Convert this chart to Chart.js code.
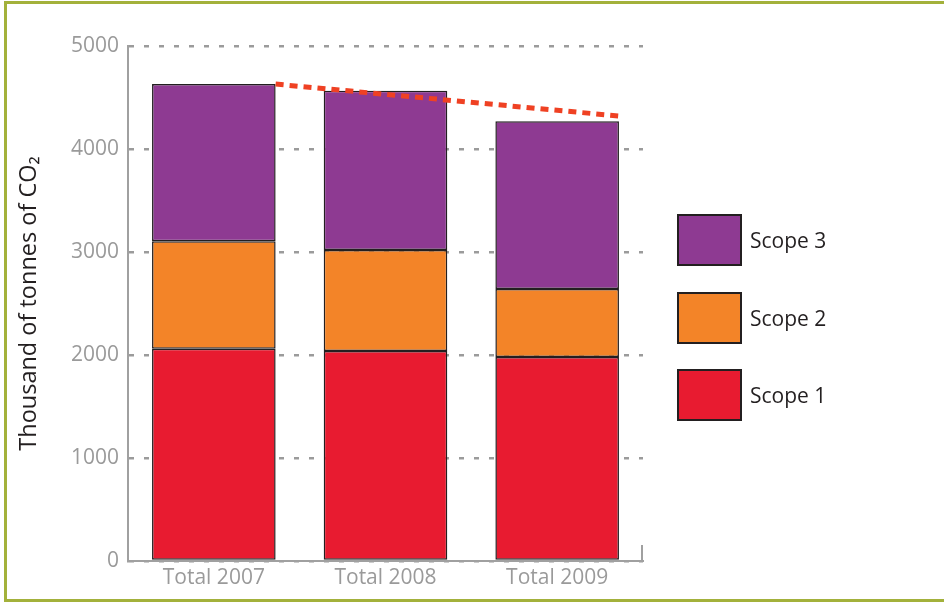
<!DOCTYPE html>
<html><head><meta charset="utf-8">
<script src="https://cdn.jsdelivr.net/npm/chart.js@4.4.1/dist/chart.umd.min.js"></script>
<style>
html,body{margin:0;padding:0;background:#fff;}
#wrap{position:relative;width:944px;height:602px;overflow:hidden;font-family:"Open Sans",sans-serif;}
#frame{position:absolute;left:4px;top:1px;width:980px;height:601px;box-sizing:border-box;border-top:3px solid #a3b13b;border-left:3px solid #a3b13b;border-bottom:3px solid #a3b13b;pointer-events:none;}
#chartBox{position:absolute;left:0;top:0;width:944px;height:602px;}
#legend{position:absolute;left:677px;top:214px;}
.item{position:absolute;left:0;width:220px;height:52px;}
.box{position:absolute;left:0;top:0;width:65px;height:52px;box-sizing:border-box;border:2px solid #231f20;}
.lbl{position:absolute;left:73px;top:0;line-height:52px;font-size:21px;color:#231f20;white-space:nowrap;}
</style></head>
<body>
<div id="wrap">
<div id="chartBox"><canvas id="c"></canvas></div>
<div id="legend"></div>
<div id="frame"></div>
</div>
<script>
const categories = ['Total 2007', 'Total 2008', 'Total 2009'];
const seriesNames = ['Scope 1', 'Scope 2', 'Scope 3'];
const scope1 = [2060, 2040, 1980];
const scope2 = [1045, 980, 660];
const scope3 = [1525, 1545, 1630];
const trendValues = [4630, 4320];
const trendPositions = [0.36, 2.36];
const yTickValues = [0, 1000, 2000, 3000, 4000, 5000];
const seriesColors = ['#e81b30', '#f38428', '#8e3a92'];
const yTitle = 'Thousand of tonnes of CO\u2082';

const seriesValues = [scope1, scope2, scope3];

const endTick = {
  id: 'endTick',
  afterDraw(chart) {
    const {ctx, scales: {x}} = chart;
    ctx.save();
    ctx.strokeStyle = '#a0a0a0';
    ctx.lineWidth = 2;
    ctx.beginPath();
    ctx.moveTo(x.right - 1, x.top);
    ctx.lineTo(x.right - 1, x.top - 16);
    ctx.stroke();
    ctx.restore();
  }
};

const barDatasets = seriesNames.map((name, i) => ({
  type: 'bar',
  label: name,
  data: seriesValues[i],
  backgroundColor: seriesColors[i],
  borderColor: '#231f20',
  borderWidth: 1.5,
  borderSkipped: false,
  barPercentage: 0.72,
  categoryPercentage: 1,
  grouped: false,
  xAxisID: 'x',
  yAxisID: 'y',
  stack: 'all',
  order: 1
}));

const trendDataset = {
  type: 'line',
  label: 'trend',
  data: trendPositions.map((p, i) => ({x: p, y: trendValues[i]})),
  borderColor: '#ef4123',
  borderWidth: 5,
  borderDash: [8, 6],
  pointRadius: 0,
  fill: false,
  xAxisID: 'x2',
  yAxisID: 'y',
  stack: 'trend',
  order: 0
};

const chart = new Chart(document.getElementById('c'), {
  data: {labels: categories, datasets: [...barDatasets, trendDataset]},
  options: {
    responsive: true,
    maintainAspectRatio: false,
    animation: false,
    layout: {padding: {left: 0, top: 46, right: 301, bottom: 0}},
    plugins: {legend: {display: false}, tooltip: {enabled: false}},
    scales: {
      x: {
        type: 'category',
        stacked: true,
        offset: true,
        grid: {display: false, drawTicks: false},
        border: {display: true, color: '#a0a0a0', width: 2},
        ticks: {color: '#9a9a9a', font: {family: 'Open Sans', size: 21}, padding: 4},
        afterFit(s) { s.height = 41; }
      },
      x2: {
        type: 'linear',
        display: false,
        min: -0.5,
        max: 2.5
      },
      y: {
        type: 'linear',
        stacked: true,
        min: 0,
        max: 5000,
        afterBuildTicks(s) { s.ticks = yTickValues.map(v => ({value: v})); },
        grid: {color: '#9b9b9b', lineWidth: 2.5, drawTicks: false},
        border: {display: true, color: '#a0a0a0', width: 2, dash: [5, 10]},
        ticks: {color: '#9a9a9a', font: {family: 'Open Sans', size: 21}, padding: 9, callback: v => String(v)},
        title: {display: true, text: yTitle, color: '#231f20', font: {family: 'Open Sans', size: 23.5, lineHeight: 1.2}, padding: {top: 15, bottom: 0}},
        afterFit(s) { s.width = 128; }
      }
    }
  },
  plugins: [endTick]
});

// HTML legend built from the chart's datasets (Scope 3 on top)
const legendEl = document.getElementById('legend');
const items = chart.data.datasets.filter(d => d.type === 'bar').slice().reverse();
items.forEach((d, k) => {
  const it = document.createElement('div');
  it.className = 'item';
  it.style.top = (k * 77.5) + 'px';
  const b = document.createElement('div');
  b.className = 'box';
  b.style.background = d.backgroundColor;
  const l = document.createElement('div');
  l.className = 'lbl';
  l.textContent = d.label;
  it.appendChild(b); it.appendChild(l);
  legendEl.appendChild(it);
});
</script>
</body></html>
